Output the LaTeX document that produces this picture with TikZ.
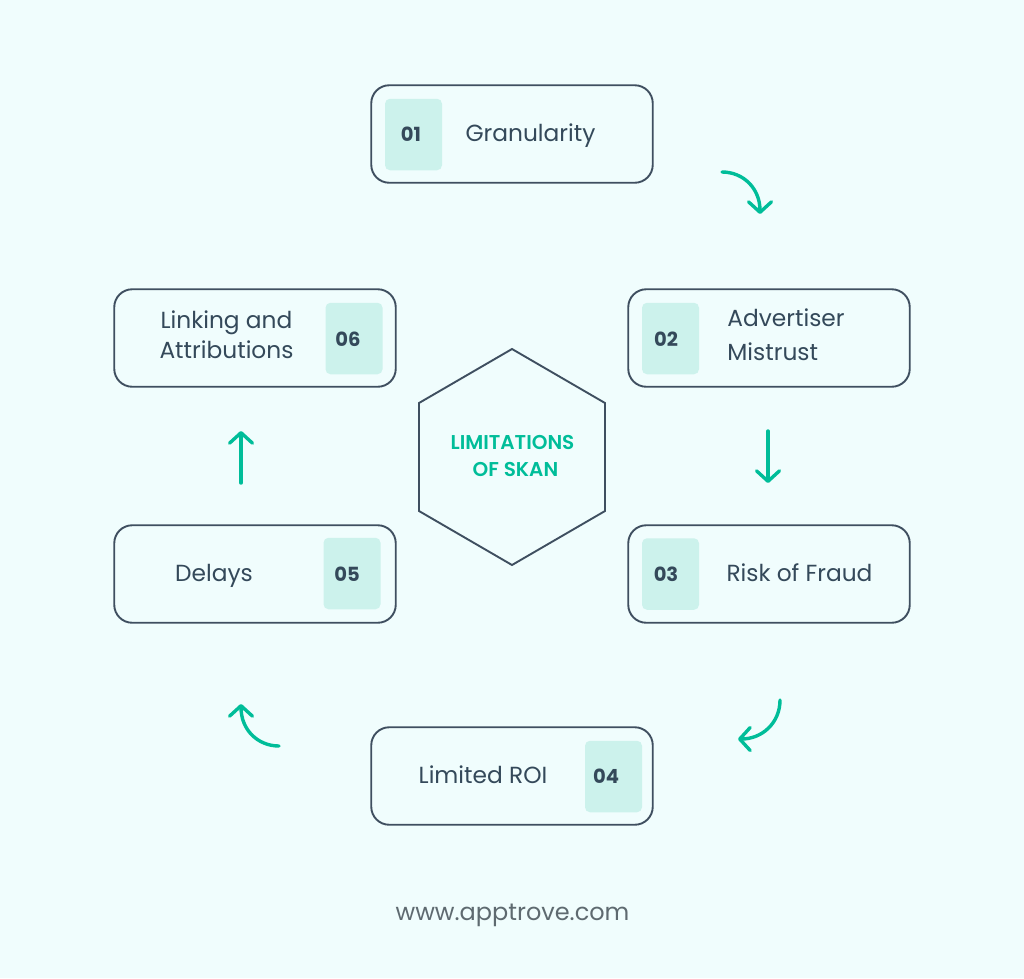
\documentclass[tikz,border=0pt]{standalone}
\usepackage{fontspec}
\usetikzlibrary{arrows.meta}
\setmainfont{Poppins}
\newfontfamily\semib{Poppins SemiBold}
\definecolor{bgc}{HTML}{F0FDFD}
\definecolor{edgec}{HTML}{3F4F60}
\definecolor{txtc}{HTML}{34495A}
\definecolor{tealc}{HTML}{00BD99}
\definecolor{badgec}{HTML}{CCF2EC}
\definecolor{urlc}{HTML}{5E6A70}
\tikzset{
 card/.style={draw=edgec,line width=1.9pt,rounded corners=18pt,minimum width=281.5pt,minimum height=97.5pt,inner sep=0pt},
 badge/.style={fill=badgec,rounded corners=5pt,minimum width=57pt,minimum height=71.5pt,inner sep=0pt},
 num/.style={text=txtc,inner sep=0pt,font=\fontsize{19.5}{19.5}\selectfont\bfseries},
 lbl/.style={text=txtc,inner sep=0pt,font=\fontsize{23.3}{30}\selectfont},
 flow/.style={draw=tealc,line width=3.4pt,line cap=round,line join=round,-{Straight Barb[length=10.5pt,width=23pt,line cap=round,round]}},
}
\begin{document}
\begin{tikzpicture}[x=1pt,y=-1pt]
\useasboundingbox (0,0) rectangle (1024,978);
\fill[bgc] (0,0) rectangle (1024,978);
% cards
\node[card] (c1) at (512,134) {};
\node[card] (c2) at (769,338) {};
\node[card] (c3) at (769,574) {};
\node[card] (c4) at (512,776) {};
\node[card] (c5) at (255,574) {};
\node[card] (c6) at (255,338) {};
% badges
\node[badge] (b1) at (413.5,134.5) {};
\node[badge] (b2) at (670.5,338.5) {};
\node[badge] (b3) at (670.5,574) {};
\node[badge] (b4) at (613.5,776.5) {};
\node[badge] (b5) at (352,573.5) {};
\node[badge] (b6) at (354,338.5) {};
\node[num] (n1) at (411,134.5) {01};
\node[num] (n2) at (666,339) {02};
\node[num] (n3) at (666,574.5) {03};
\node[num] (n4) at (606,776.5) {04};
\node[num] (n5) at (347,574) {05};
\node[num] (n6) at (348,339) {06};
% labels
\node[lbl,anchor=base] (t1) at (530.5,141) {Granularity};
\node[lbl,align=left,font=\fontsize{23.3}{34}\selectfont] (t2) at (786,335) {Advertiser\\Mistrust};
\node[lbl,anchor=base] (t3) at (799.5,581) {Risk of Fraud};
\node[lbl,anchor=base] (t4) at (483,783) {Limited ROI};
\node[lbl,anchor=base] (t5) at (214,581) {Delays};
\node[lbl,align=center] (t6) at (226.5,335) {Linking and\\Attributions};
% hexagon
\coordinate (h1) at (512,349);
\coordinate (h2) at (605,403);
\coordinate (h3) at (605,511);
\coordinate (h4) at (512,565);
\coordinate (h5) at (419,511);
\coordinate (h6) at (419,403);
\draw[edgec,line width=1.9pt,line join=miter] (h1)--(h2)--(h3)--(h4)--(h5)--(h6)--cycle;
\node[text=tealc,align=center,inner sep=0pt,font=\fontsize{20}{27}\selectfont\semib] (hub) at (512.5,455.5) {LIMITATIONS\\ \hspace*{6pt}OF SKAN};
% arrows
\coordinate (a1s) at (722,172); \coordinate (a1e) at (760,214);
\coordinate (a2s) at (768,431); \coordinate (a2e) at (768,483);
\coordinate (a3s) at (780,700); \coordinate (a3e) at (738,739);
\coordinate (a4s) at (279,746); \coordinate (a4e) at (241,704);
\coordinate (a5s) at (241,483); \coordinate (a5e) at (241,431);
\draw[flow] (a1s) .. controls (743,172) and (760,188) .. (a1e);
\draw[flow] (a2s) -- (a2e);
\draw[flow] (a3s) .. controls (780,723) and (762,739) .. (a3e);
\draw[flow] (a4s) .. controls (258,746) and (241,730) .. (a4e);
\draw[flow] (a5s) -- (a5e);
% url
\node[text=urlc,inner sep=0pt,anchor=base,font=\fontsize{24}{24}\selectfont] (url) at (512.5,920) {www.apptrove.com};
\end{tikzpicture}
\end{document}
